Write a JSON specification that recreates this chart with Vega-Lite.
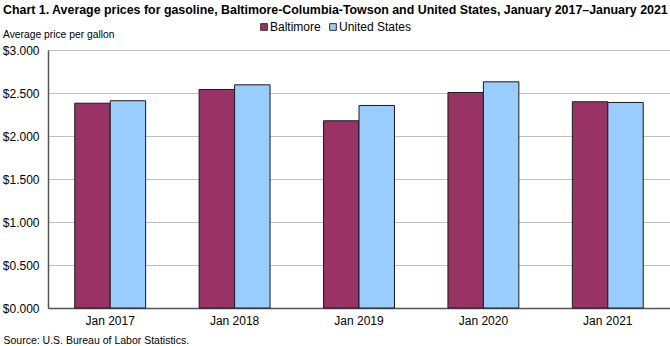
{
  "$schema": "https://vega.github.io/schema/vega-lite/v6.json",
  "autosize": {"type": "none"},
  "padding": {"left": 48, "top": 50, "right": 0, "bottom": 38},
  "width": 622,
  "height": 258,
  "background": "white",
  "title": {
    "text": "Chart 1. Average prices for gasoline, Baltimore-Columbia-Towson and United States, January 2017–January 2021",
    "subtitle": "Average  price per gallon",
    "anchor": "start",
    "frame": "group",
    "dx": -45,
    "offset": -19,
    "font": "Liberation Sans",
    "fontSize": 12.4,
    "fontWeight": "bold",
    "color": "#000000",
    "subtitleFont": "Liberation Sans",
    "subtitleFontSize": 10.3,
    "subtitleColor": "#000000",
    "subtitlePadding": 13
  },
  "data": {
    "values": [
      {"month": "Jan 2017", "series": "Baltimore", "price": 2.381},
      {"month": "Jan 2017", "series": "United States", "price": 2.41},
      {"month": "Jan 2018", "series": "Baltimore", "price": 2.541},
      {"month": "Jan 2018", "series": "United States", "price": 2.595},
      {"month": "Jan 2019", "series": "Baltimore", "price": 2.177},
      {"month": "Jan 2019", "series": "United States", "price": 2.355},
      {"month": "Jan 2020", "series": "Baltimore", "price": 2.506},
      {"month": "Jan 2020", "series": "United States", "price": 2.63},
      {"month": "Jan 2021", "series": "Baltimore", "price": 2.398},
      {"month": "Jan 2021", "series": "United States", "price": 2.39}
    ]
  },
  "mark": {"type": "bar", "stroke": "#1a1a1a", "strokeWidth": 1},
  "encoding": {
    "x": {
      "field": "month",
      "type": "nominal",
      "scale": {"paddingInner": 0.43, "paddingOuter": 0.215},
      "axis": {
        "title": "Source: U.S. Bureau of Labor Statistics.",
        "titleAnchor": "start",
        "titleAlign": "left",
        "titleX": -45,
        "titleY": 32,
        "titleBaseline": "middle",
        "titleFont": "Liberation Sans",
        "titleFontSize": 10.5,
        "titleFontWeight": "normal",
        "titleColor": "#000000",
        "labelAngle": 0,
        "labelFont": "Liberation Sans",
        "labelFontSize": 12,
        "labelColor": "#000000",
        "labelPadding": 7,
        "ticks": false,
        "domainColor": "#555555",
        "domainWidth": 1.5
      }
    },
    "xOffset": {"field": "series", "type": "nominal"},
    "y": {
      "field": "price",
      "type": "quantitative",
      "scale": {"domain": [0, 3]},
      "axis": {
        "title": null,
        "values": [0, 0.5, 1, 1.5, 2, 2.5, 3],
        "format": "$.3f",
        "labelFont": "Liberation Sans",
        "labelFontSize": 12,
        "labelColor": "#000000",
        "labelPadding": 9,
        "ticks": false,
        "gridColor": "#c0c0c0",
        "gridWidth": 1,
        "domainColor": "#555555",
        "domainWidth": 1.5
      }
    },
    "color": {
      "field": "series",
      "type": "nominal",
      "scale": {"domain": ["Baltimore", "United States"], "range": ["#993366", "#99ccff"]},
      "legend": {
        "title": null,
        "orient": "none",
        "direction": "horizontal",
        "legendX": 210,
        "legendY": -29,
        "symbolType": "square",
        "symbolSize": 45,
        "symbolStrokeColor": "#333333",
        "symbolStrokeWidth": 1,
        "labelFont": "Liberation Sans",
        "labelFontSize": 12,
        "labelColor": "#000000",
        "labelOffset": 0,
        "columnPadding": 6
      }
    }
  },
  "config": {
    "view": {"stroke": "#999999", "strokeWidth": 1}
  }
}
